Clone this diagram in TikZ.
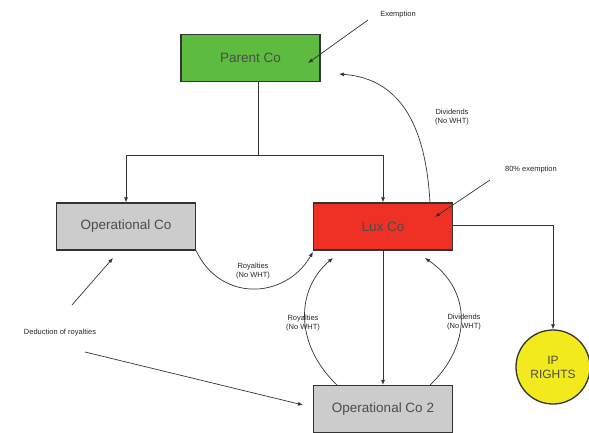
\documentclass[tikz,border=0pt]{standalone}
\usepackage{fontspec}
\setmainfont{Liberation Sans}
\usetikzlibrary{arrows.meta}
\definecolor{pgreen}{HTML}{5DBB3F}
\definecolor{lred}{HTML}{EE3124}
\definecolor{ogray}{HTML}{CCCCCC}
\definecolor{ipy}{HTML}{F2EA1C}
\definecolor{lnc}{HTML}{333333}
\tikzset{
  box/.style={draw=lnc, line width=1.3pt, minimum width=139pt, minimum height=47pt, inner sep=0pt, font=\fontsize{13.5}{15}\selectfont, text=black!70},
  lbl/.style={font=\fontsize{7.5}{9.5}\selectfont, align=center, text=black!85},
  conn/.style={draw=lnc, line width=0.7pt, -{Latex[length=5pt,width=4pt]}},
}
\begin{document}
\begin{tikzpicture}[x=1pt,y=-1pt]
\useasboundingbox (0,0) rectangle (589,433);
\node[box, fill=pgreen] (parent) at (250.5,58) {Parent Co};
\node[box, fill=ogray] (op) at (126,226.5) {Operational Co};
\node[box, fill=lred] (lux) at (383,226.5) {Lux Co};
\node[box, fill=ogray] (op2) at (383,409) {Operational Co 2};
\node[circle, draw=lnc, line width=1.3pt, fill=ipy, minimum size=74pt, inner sep=0pt, align=center, font=\fontsize{12}{14}\selectfont, text=black!70] (ip) at (553,367) {IP\\RIGHTS};

\node[lbl] (exl) at (398,15) {Exemption};
\node[lbl] (eightl) at (531,170) {80\% exemption};
\node[lbl] (divl) at (452,117) {Dividends\\(No WHT)};
\node[lbl] (roy1) at (253,271) {Royalties\\(No WHT)};
\node[lbl] (roy2) at (303,323) {Royalties\\(No WHT)};
\node[lbl] (div2) at (464,322) {Dividends\\(No WHT)};
\node[lbl] (ded) at (60,333) {Deduction of royalties};

\coordinate (split) at (258,155);
\coordinate (exs) at (368,20);
\coordinate (exe) at (308,63);
\coordinate (ees) at (490,180);
\coordinate (eee) at (435,217);
\coordinate (d1s) at (72,305);
\coordinate (d1e) at (113,258);
\coordinate (d2s) at (85,352);
\coordinate (d2e) at (303,405);
\coordinate (ipc) at (553,225);

\draw[draw=lnc, line width=0.7pt] (parent.south -| split) -- (split);
\draw[conn] (split) -| (op.north);
\draw[conn] (split) -| (lux.north);
\draw[conn] (exs) -- (exe);
\draw[conn] (ees) -- (eee);
\draw[conn] (d1s) -- (d1e);
\draw[conn] (d2s) -- (d2e);
\draw[conn] (lux.east |- ipc) -- (ipc) -- (ip.north);
\draw[conn] (lux.south) -- (op2.north);
\draw[conn] (430,203) .. controls (425,110) and (390,78) .. (339,74);
\draw[conn] (op.south east) .. controls (220,302) and (285,300) .. (313,252);
\draw[conn] (337,385) .. controls (295,345) and (295,290) .. (333,258);
\draw[conn] (430,385) .. controls (472,345) and (472,290) .. (425,258);
\end{tikzpicture}
\end{document}
